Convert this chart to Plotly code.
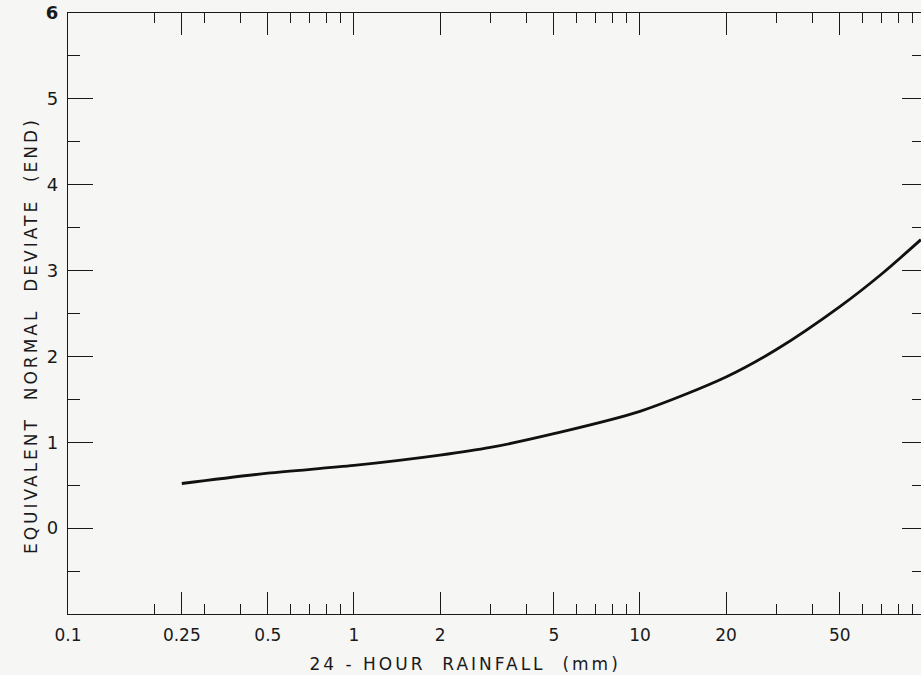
import math
import plotly.graph_objects as go

# ---- data ----
rainfall_mm = [0.25, 0.5, 1, 2, 3, 5, 10, 20, 30, 50, 70, 96]
end_values = [0.52, 0.64, 0.73, 0.85, 0.94, 1.10, 1.36, 1.76, 2.08, 2.58, 2.96, 3.36]

x_major_ticks = [0.1, 0.25, 0.5, 1, 2, 5, 10, 20, 50]
x_major_labels = ["0.1", "0.25", "0.5", "1", "2", "5", "10", "20", "50"]
x_minor_ticks = [0.2, 0.3, 0.4, 0.6, 0.7, 0.8, 0.9, 3, 4, 6, 7, 8, 9, 30, 40, 60, 70, 80, 90]
y_major_ticks = [0, 1, 2, 3, 4, 5, 6]
y_major_labels = ["0", "1", "2", "3", "4", "5", "<b>6</b>"]
y_minor_ticks = [-0.5, 0.5, 1.5, 2.5, 3.5, 4.5, 5.5]

x_title = "24 - HOUR  RAINFALL  (mm)"
y_title = "EQUIVALENT  NORMAL  DEVIATE  (END)"

X_RANGE = [0.1, 96.1]
Y_RANGE = [-1, 6]

INK = "#1a1a1a"
BG = "#f6f6f4"
FONT = "DejaVu Sans"

fig = go.Figure()
fig.add_trace(go.Scatter(
    x=rainfall_mm, y=end_values, mode="lines",
    line=dict(color="#111111", width=2.8, shape="spline", smoothing=0.8),
    showlegend=False, hoverinfo="skip",
))

fig.update_layout(
    width=921, height=675,
    margin=dict(l=68, r=0, t=13, b=61),
    paper_bgcolor=BG, plot_bgcolor=BG,
    font=dict(family=FONT, color=INK, size=17),
    showlegend=False,
    xaxis=dict(
        type="log",
        range=[math.log10(X_RANGE[0]), math.log10(X_RANGE[1])],
        showgrid=False, zeroline=False,
        showline=True, linecolor=INK, linewidth=1.3, mirror="ticks",
        ticks="inside", ticklen=22, tickwidth=1.4, tickcolor=INK,
        tickvals=x_major_ticks, ticktext=x_major_labels,
        tickfont=dict(size=17, family=FONT, color=INK),
        ticklabelstandoff=5,
        minor=dict(tickvals=x_minor_ticks, ticks="inside", ticklen=10,
                   tickwidth=1.3, tickcolor=INK, showgrid=False),
    ),
    yaxis=dict(
        range=Y_RANGE,
        showgrid=False, zeroline=False,
        showline=True, linecolor=INK, linewidth=1.3, mirror=False,
        ticks="inside", ticklen=25, tickwidth=1.4, tickcolor=INK,
        tickvals=y_major_ticks, ticktext=y_major_labels,
        tickfont=dict(size=18, family=FONT, color=INK),
        ticklabelstandoff=5,
        minor=dict(tickvals=y_minor_ticks, ticks="inside", ticklen=12,
                   tickwidth=1.3, tickcolor=INK, showgrid=False),
    ),
    yaxis2=dict(
        overlaying="y", side="right", range=Y_RANGE,
        showgrid=False, zeroline=False, showline=False,
        ticks="inside", ticklen=19, tickwidth=1.4, tickcolor=INK,
        tickvals=y_major_ticks, showticklabels=False,
        minor=dict(tickvals=y_minor_ticks, ticks="inside", ticklen=9,
                   tickwidth=1.3, tickcolor=INK, showgrid=False),
    ),
    annotations=[
        dict(text=x_title, xref="paper", yref="paper",
             x=0.4654, y=-0.083, xanchor="center", yanchor="middle",
             showarrow=False, font=dict(size=17, family=FONT, color=INK)),
        dict(text=y_title, xref="paper", yref="paper",
             x=-0.0434, y=0.464, xanchor="center", yanchor="middle",
             textangle=-90, showarrow=False,
             font=dict(size=17, family=FONT, color=INK)),
    ],
)

# invisible companion so the right-hand tick axis is rendered
fig.add_trace(go.Scatter(x=[rainfall_mm[0]], y=[end_values[0]], yaxis="y2",
                         mode="markers", marker=dict(opacity=0),
                         showlegend=False, hoverinfo="skip"))

post = ("document.body.style.margin='0';"
        "document.body.style.background='" + BG + "';"
        "document.querySelectorAll('.annotation-text').forEach(function(t){"
        "t.style.letterSpacing='3px';});")
fig.write_html("out.html", post_script=post, config={"displayModeBar": False})
